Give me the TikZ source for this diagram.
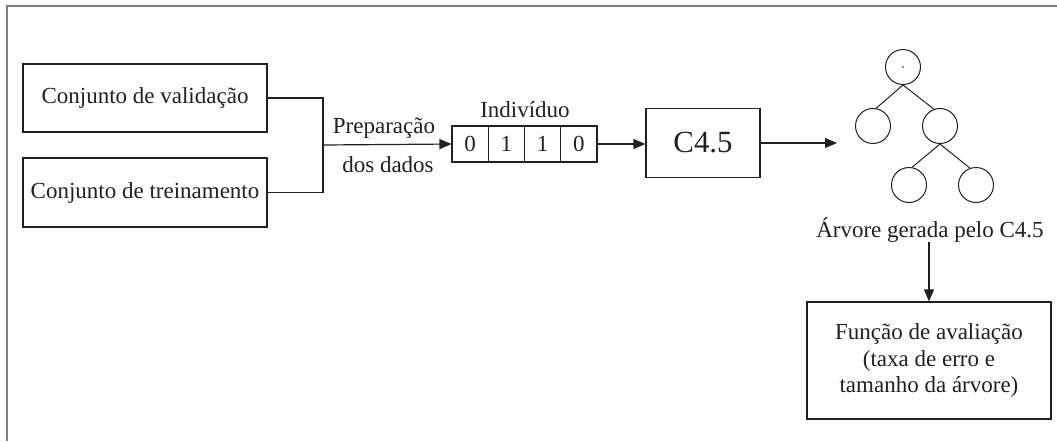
\documentclass[tikz,border=0pt]{standalone}
\usepackage{fontspec}
\setmainfont{Liberation Serif}
\usetikzlibrary{arrows.meta}
\definecolor{ink}{RGB}{35,31,32}
\definecolor{framegray}{RGB}{125,125,125}

\begin{document}
\begin{tikzpicture}[x=0.5pt,y=-0.5pt, %1 unidade = 1 pixel
  every node/.style={font=\fontsize{11.5}{13.25}\selectfont, text=ink},
  box/.style={draw=ink, line width=0.6pt, inner sep=0pt},
  cell/.style={box, minimum width=18.1pt, minimum height=18pt},
  leaf/.style={draw=ink, line width=0.5pt, circle, minimum size=17.5pt, inner sep=0pt},
  link/.style={draw=ink, line width=0.6pt},
  flow/.style={link, -{Triangle[length=6pt,width=5pt]}}]
\useasboundingbox (0,0) rectangle (1057,441);
\draw[framegray, line width=1pt] (6.5,441) -- (6.5,5.5) -- (1057,5.5);

% conjuntos de dados
\node[box, minimum width=122pt, minimum height=34pt] (val) at (145,98) {Conjunto de validação};
\node[box, minimum width=122pt, minimum height=34.5pt] (trn) at (145,192.5) {Conjunto de treinamento};
\coordinate (join) at (323,145);
\draw[link] (val.east) -| (join);
\draw[link] (trn.east) -| (join);
\node[anchor=base] (prep) at (384,133) {Preparação};
\node[anchor=base] (dados) at (388,172) {dos dados};

% individuo
\foreach \b [count=\i] in {0,1,1,0} {
\node[cell] (c\i) at ({433.9+36.25*\i},144) {\b};
}
\node[anchor=base] (ind) at (525,117) {Indivíduo};
\draw[flow] (join) -- (c1.west);

\node[box, minimum width=57pt, minimum height=34.5pt, font=\fontsize{15.4}{18}\selectfont] (c45) at (703,143) {C4.5};
\draw[flow] (c4.east) -- (c4.east -| c45.west);

% arvore
\node[leaf] (r) at (903,67) {};
\node[leaf] (a) at (873,126) {};
\node[leaf] (b) at (940,126) {};
\node[leaf] (ba) at (909,185) {};
\node[leaf] (bb) at (976,185) {};
\fill[ink] (r) circle (0.4pt);
\draw[link, line width=0.5pt] (r.south) -- (a.80);
\draw[link, line width=0.5pt] (r.south) -- (b.110);
\draw[link, line width=0.5pt] (b.south) -- (ba.80);
\draw[link, line width=0.5pt] (b.south) -- (bb.110);
\coordinate (treein) at (837,143);
\draw[flow] (c45.east) -- (treein);

\node[anchor=base, inner sep=0pt] (lbl) at (930,237) {Árvore gerada pelo C4.5};
\node[box, minimum width=122pt, minimum height=58.5pt, align=center] (fit) at (929,360.5) {Função de avaliação\\(taxa de erro e\\tamanho da árvore)};
\draw[flow] (lbl.south -| fit.north) -- (fit.north);
\end{tikzpicture}
\end{document}
